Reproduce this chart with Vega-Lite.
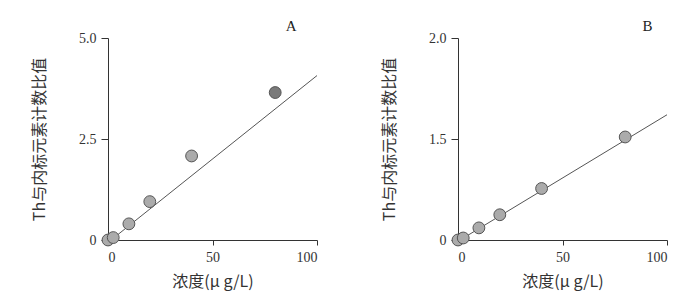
{
  "$schema": "https://vega.github.io/schema/vega-lite/v6.json",
  "background": "white",
  "padding": {"left": 31, "top": 19, "right": 5, "bottom": 5},
  "spacing": 63,
  "config": {
    "view": {"stroke": null},
    "font": "Liberation Serif",
    "title": {"font": "Liberation Serif", "fontSize": 15, "fontWeight": "normal", "color": "#222", "anchor": "end", "offset": -3},
    "axis": {
      "grid": false,
      "domainColor": "#333",
      "tickColor": "#333",
      "labelFont": "Liberation Serif",
      "labelFontSize": 14,
      "labelColor": "#333",
      "titleFont": "Noto Sans CJK SC",
      "titleFontSize": 16,
      "titleFontWeight": "normal",
      "titleColor": "#333"
    },
    "axisX": {"tickSize": 5, "labelPadding": 5, "titlePadding": 9},
    "axisY": {"tickSize": 7, "labelPadding": 5, "titlePadding": 31}
  },
  "datasets": {
    "pts": [
      {"panel": "A", "conc": 0, "ratio": 0.0},
      {"panel": "A", "conc": 2.5, "ratio": 0.06},
      {"panel": "A", "conc": 10, "ratio": 0.4},
      {"panel": "A", "conc": 20, "ratio": 0.95},
      {"panel": "A", "conc": 40, "ratio": 2.08},
      {"panel": "A", "conc": 80, "ratio": 3.65},
      {"panel": "B", "conc": 0, "ratio": 0.0},
      {"panel": "B", "conc": 2.5, "ratio": 0.02},
      {"panel": "B", "conc": 10, "ratio": 0.12},
      {"panel": "B", "conc": 20, "ratio": 0.25},
      {"panel": "B", "conc": 40, "ratio": 0.51},
      {"panel": "B", "conc": 80, "ratio": 1.02}
    ],
    "fit": [
      {"panel": "A", "conc": 1, "ratio": -0.02},
      {"panel": "A", "conc": 100, "ratio": 4.07},
      {"panel": "B", "conc": 1, "ratio": 0.0},
      {"panel": "B", "conc": 100, "ratio": 1.24}
    ]
  },
  "hconcat": [
    {
      "width": 209,
      "height": 202,
      "title": {"text": "A", "dx": -21},
      "layer": [
        {
          "data": {"name": "fit"},
          "transform": [{"filter": "datum.panel == 'A'"}],
          "mark": {"type": "line", "color": "#555", "strokeWidth": 1, "clip": true},
          "encoding": {
            "x": {"field": "conc", "type": "quantitative"},
            "y": {"field": "ratio", "type": "quantitative"}
          }
        },
        {
          "data": {"name": "pts"},
          "transform": [{"filter": "datum.panel == 'A'"}],
          "mark": {"type": "point", "filled": false, "size": 140, "strokeWidth": 1, "stroke": "#555", "opacity": 1},
          "encoding": {
            "x": {"field": "conc", "type": "quantitative", "scale": {"domain": [0, 100], "nice": false},
              "axis": {"values": [0, 50, 100], "title": "浓度(μ g/L)"}},
            "y": {"field": "ratio", "type": "quantitative", "scale": {"domain": [0, 5], "nice": false},
              "axis": {"values": [0, 2.5, 5], "title": "Th与内标元素计数比值",
                "labelExpr": "datum.value == 0 ? '0' : format(datum.value, '.1f')"}},
            "fill": {"condition": {"test": "datum.conc == 80", "value": "#7a7a7a"}, "value": "#ababab"}
          }
        }
      ]
    },
    {
      "width": 209,
      "height": 202,
      "title": {"text": "B", "dx": -15},
      "layer": [
        {
          "data": {"name": "fit"},
          "transform": [{"filter": "datum.panel == 'B'"}],
          "mark": {"type": "line", "color": "#555", "strokeWidth": 1, "clip": true},
          "encoding": {
            "x": {"field": "conc", "type": "quantitative"},
            "y": {"field": "ratio", "type": "quantitative"}
          }
        },
        {
          "data": {"name": "pts"},
          "transform": [{"filter": "datum.panel == 'B'"}],
          "mark": {"type": "point", "filled": false, "size": 140, "strokeWidth": 1, "stroke": "#555", "opacity": 1, "fill": "#ababab"},
          "encoding": {
            "x": {"field": "conc", "type": "quantitative", "scale": {"domain": [0, 100], "nice": false},
              "axis": {"values": [0, 50, 100], "title": "浓度(μ g/L)"}},
            "y": {"field": "ratio", "type": "quantitative", "scale": {"domain": [0, 2], "nice": false},
              "axis": {"values": [0, 1, 2], "title": "Th与内标元素计数比值",
                "labelExpr": "datum.value == 0 ? '0' : datum.value == 1 ? '1.5' : format(datum.value, '.1f')"}}
          }
        }
      ]
    }
  ]
}
